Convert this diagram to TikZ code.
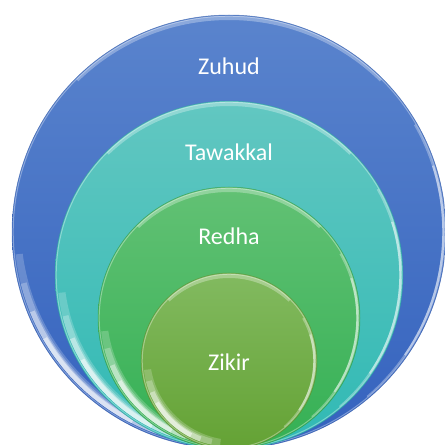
\documentclass[tikz,border=0pt]{standalone}
\usepackage{fontspec}
\setmainfont{Carlito}
\usetikzlibrary{calc}
\definecolor{ZuhudTop}{RGB}{90,132,205}
\definecolor{ZuhudBot}{RGB}{52,98,190}
\definecolor{TawakkalTop}{RGB}{98,199,193}
\definecolor{TawakkalBot}{RGB}{48,185,180}
\definecolor{RedhaTop}{RGB}{98,193,116}
\definecolor{RedhaBot}{RGB}{52,176,84}
\definecolor{ZikirTop}{RGB}{130,186,96}
\definecolor{ZikirBot}{RGB}{100,162,52}

\tikzset{
  lbl/.style={text=white,font=\fontsize{24}{28}\selectfont},
  rim/.style={white,line width=1pt,opacity=0.35},
  gloss/.style={white,even odd rule},
}

\begin{document}
\begin{tikzpicture}[x=1pt,y=1pt]
  \useasboundingbox (0,0) rectangle (445,445);
  % nested rings, all touching at the bottom
  \foreach \nm/\r in {Zuhud/217,Tawakkal/174,Redha/131,Zikir/88}{
    \coordinate (c\nm) at (229,-4+\r);
    \shade[top color=\nm Top,bottom color=\nm Bot] (c\nm) circle (\r);
    \draw[\nm Bot!85!black,line width=0.5pt,opacity=0.6] (c\nm) circle (\r);
    \draw[rim] (c\nm) circle (\r-1.2);
    % light band along the top
    \begin{scope}
      \clip (c\nm) -- ($(c\nm)+(45:\r+2)$) arc (45:135:\r+2) -- cycle;
      \fill[gloss,opacity=0.3] (c\nm) circle (\r-1) ($(c\nm)+(0,-4)$) circle (\r-1);
    \end{scope}
    % bright crescent low on the left, stacked so it tapers
    \foreach \a/\b/\d/\o in {186/264/9/0.2,194/258/7/0.25,202/250/5.5/0.4,210/243/4.5/0.5}{
      \begin{scope}
        \clip (c\nm) -- ($(c\nm)+(\a:\r+2)$) arc (\a:\b:\r+2) -- cycle;
        \fill[gloss,opacity=\o] (c\nm) circle (\r-2.5) ($(c\nm)+(45:\d)$) circle (\r-2.5);
      \end{scope}
    }
    % thin shine on the right
    \foreach \a/\b/\o in {-50/30/0.3,-35/18/0.45}{
      \begin{scope}
        \clip (c\nm) -- ($(c\nm)+(\a:\r+2)$) arc (\a:\b:\r+2) -- cycle;
        \fill[gloss,opacity=\o] (c\nm) circle (\r-1.5) ($(c\nm)+(180:2.2)$) circle (\r-1.5);
      \end{scope}
    }
  }
  \node[lbl] (zuhud) at (229,379) {Zuhud};
  \node[lbl] (tawakkal) at (229,293) {Tawakkal};
  \node[lbl] (redha) at (229,209) {Redha};
  \node[lbl] (zikir) at (229,83) {Zikir};
\end{tikzpicture}
\end{document}
